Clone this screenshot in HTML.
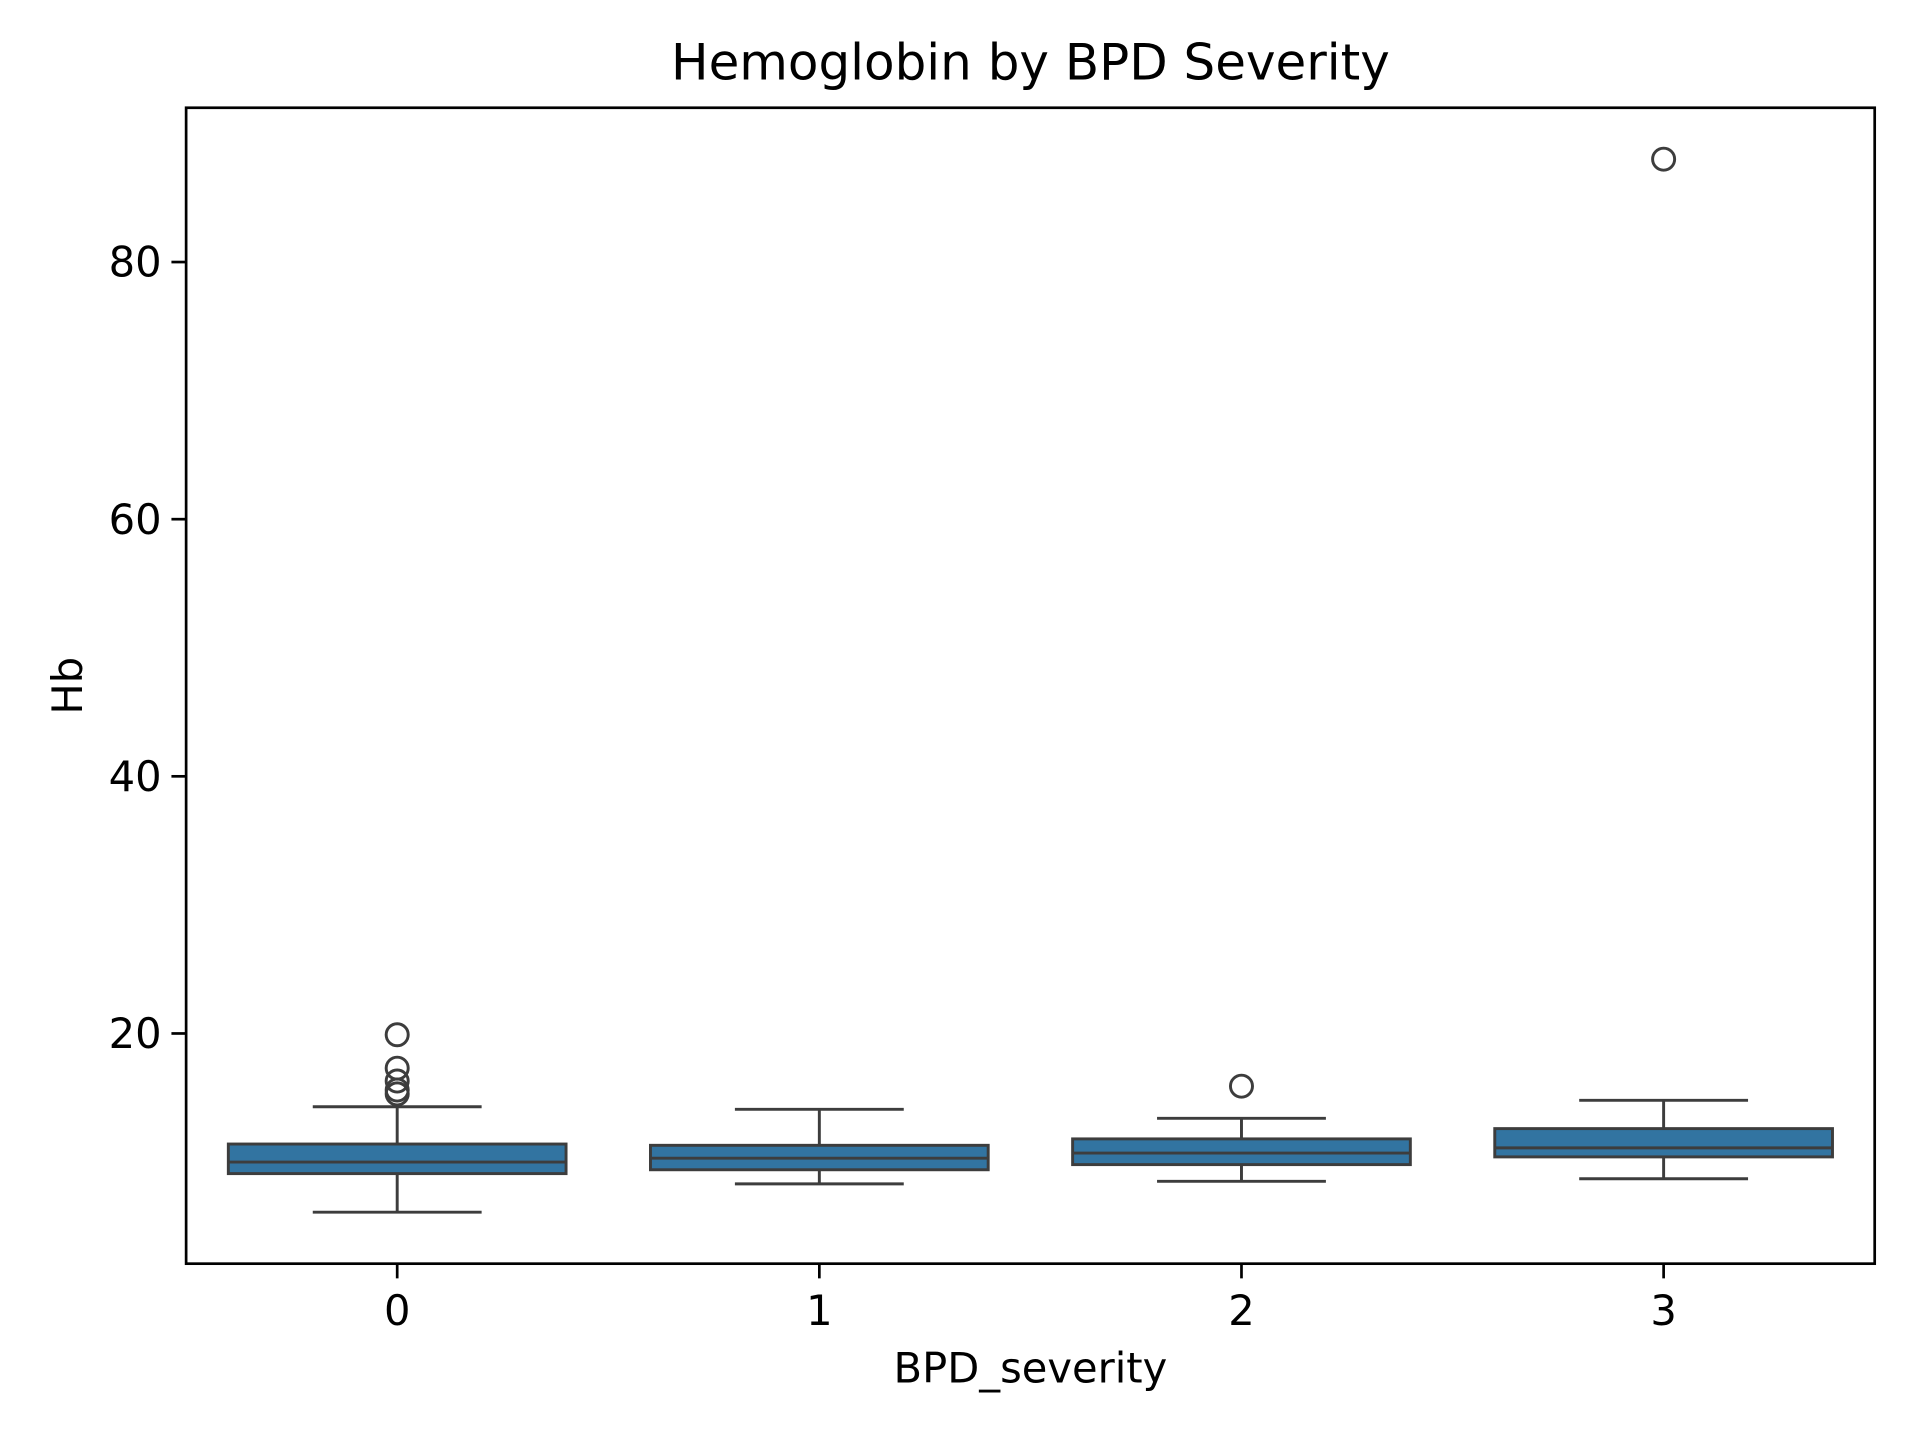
<!DOCTYPE html>
<html><head><meta charset="utf-8"><style>
html,body{margin:0;padding:0;background:#fff}
svg{display:block}
text{font-family:"DejaVu Sans","Liberation Sans",sans-serif;fill:#000}
</style></head><body>
<svg id="chart" width="1920" height="1440" viewBox="0 0 1568 1176" xmlns="http://www.w3.org/2000/svg">
<rect width="1568" height="1176" fill="#fff"/>
<text x="841.5" y="65" font-size="40.8" text-anchor="middle">Hemoglobin by BPD Severity</text>
<g id="plot"></g>
<rect x="152" y="88" width="1379" height="944" fill="none" stroke="#000" stroke-width="2.2"/>
<text x="841.5" y="1129" font-size="34" text-anchor="middle">BPD_severity</text>
<text transform="translate(67,560) rotate(-90)" font-size="34" text-anchor="middle">Hb</text>
</svg>
<script>
const categories = ["0","1","2","3"];
const whiskerLow = [6.1, 8.3, 8.5, 8.7];
const q1 = [9.1, 9.4, 9.8, 10.4];
const median = [10.0, 10.3, 10.7, 11.1];
const q3 = [11.4, 11.3, 11.8, 12.6];
const whiskerHigh = [14.3, 14.1, 13.4, 14.8];
const outliers = [[19.9, 17.3, 16.3, 15.6, 15.3], [], [15.9], [88.0]];
const yTicks = [20, 40, 60, 80];

const NS = "http://www.w3.org/2000/svg";
const L = 152, R = 1531, T = 88, B = 1032;
const yMin = 2.095, yMax = 92.0;
function yScale(v){ return 844 - (v - 20) * 10.5; }
const band = (R - L) / categories.length;
function xScale(i){ return L + band * (i + 0.5); }
const g = document.getElementById("plot");
function mk(tag, attrs){ const e = document.createElementNS(NS, tag); for (const k in attrs) e.setAttribute(k, attrs[k]); g.appendChild(e); return e; }
const edge = "#3d3d3d", lw = 2.4;

yTicks.forEach(t => {
  const y = yScale(t);
  const tk = mk("line", {x1: L - 12, x2: L, y1: y, y2: y, stroke: "#000", "stroke-width": 2.2});
  
  
  const tx = mk("text", {x: L - 20, y: y + 12, "font-size": 34, "text-anchor": "end"});
  tx.textContent = t;
  
  
});

categories.forEach((c, i) => {
  const cx = xScale(i), w = band * 0.8, cap = w * 0.5;
  const tk = mk("line", {x1: cx, x2: cx, y1: B, y2: B + 12, stroke: "#000", "stroke-width": 2.2});
  
  
  const tx = mk("text", {x: cx, y: 1082, "font-size": 34, "text-anchor": "middle"});
  tx.textContent = c;
  
  

  const wl = mk("line", {x1: cx, x2: cx, y1: yScale(q1[i]), y2: yScale(whiskerLow[i]), stroke: edge, "stroke-width": lw});
  
  
  const wh = mk("line", {x1: cx, x2: cx, y1: yScale(q3[i]), y2: yScale(whiskerHigh[i]), stroke: edge, "stroke-width": lw});
  
  
  const cl = mk("line", {x1: cx - cap/2, x2: cx + cap/2, y1: yScale(whiskerLow[i]), y2: yScale(whiskerLow[i]), stroke: edge, "stroke-width": lw});
  
  
  const ch = mk("line", {x1: cx - cap/2, x2: cx + cap/2, y1: yScale(whiskerHigh[i]), y2: yScale(whiskerHigh[i]), stroke: edge, "stroke-width": lw});
  
  
  const bx = mk("rect", {x: cx - w/2, y: yScale(q3[i]), width: w, height: yScale(q1[i]) - yScale(q3[i]), fill: "#3274a1", stroke: edge, "stroke-width": lw});
  
  
  const md = mk("line", {x1: cx - w/2, x2: cx + w/2, y1: yScale(median[i]), y2: yScale(median[i]), stroke: edge, "stroke-width": lw});
  
  
  outliers[i].forEach((v, j) => {
    const o = mk("circle", {cx: cx, cy: yScale(v), r: 9, fill: "none", stroke: edge, "stroke-width": 2.4});
    
    
  });
});
</script>
</body></html>
